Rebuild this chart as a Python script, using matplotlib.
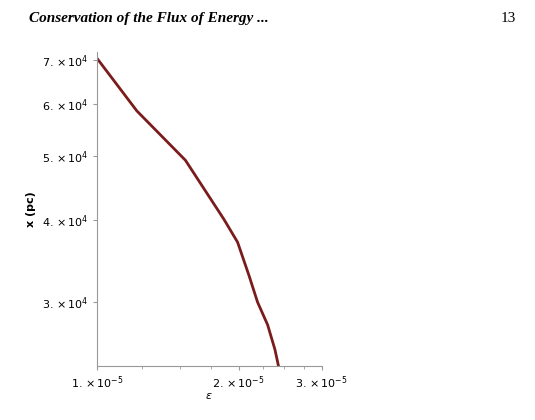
import matplotlib
matplotlib.use("Agg")
import matplotlib.pyplot as plt

eps = [1.0e-5, 1.216e-5, 1.542e-5, 1.861e-5, 1.99e-5, 2.105e-5, 2.194e-5, 2.305e-5, 2.389e-5, 2.43e-5]
xpc = [7.05e4, 5.86e4, 4.93e4, 4.01e4, 3.70e4, 3.29e4, 3.0e4, 2.77e4, 2.54e4, 2.40e4]
yticks = [3e4, 4e4, 5e4, 6e4, 7e4]
ylabels = [r"3. $\times\,10^{4}$", r"4. $\times\,10^{4}$", r"5. $\times\,10^{4}$", r"6. $\times\,10^{4}$", r"7. $\times\,10^{4}$"]
xticks = [1e-5, 2e-5, 3e-5]
xlabels = [r"1. $\times\,10^{-5}$", r"2. $\times\,10^{-5}$", r"3. $\times\,10^{-5}$"]

fig = plt.figure(figsize=(5.35, 4.2), dpi=100)
fig.text(0.055, 0.955, "Conservation of the Flux of Energy ...", family="Liberation Serif",
         style="italic", weight="bold", fontsize=11, va="center")
fig.text(0.935, 0.955, "13", family="Liberation Serif", fontsize=11, va="center")

ax = fig.add_axes([0.181, 0.129, 0.42, 0.747])
ax.plot(eps, xpc, color="#7a1c1c", lw=2)
ax.set_xscale("log"); ax.set_yscale("log")
ax.set_xlim(1e-5, 3e-5); ax.set_ylim(2.4e4, 7.2e4)
ax.set_yticks(yticks); ax.set_yticklabels(ylabels)
ax.set_xticks(xticks); ax.set_xticklabels(xlabels)
ax.minorticks_on()
for s in ["top", "right"]:
    ax.spines[s].set_visible(False)
for s in ["left", "bottom"]:
    ax.spines[s].set_color("#999999")
ax.tick_params(which="both", color="#999999", labelsize=8, length=3)
ax.tick_params(which="minor", length=2, labelleft=False, labelbottom=False)
ax.set_ylabel("x (pc)", fontsize=8, weight="bold", labelpad=4)
ax.set_xlabel(r"$\epsilon$", fontsize=8, labelpad=0)
fig.savefig("out.png", dpi=100)
